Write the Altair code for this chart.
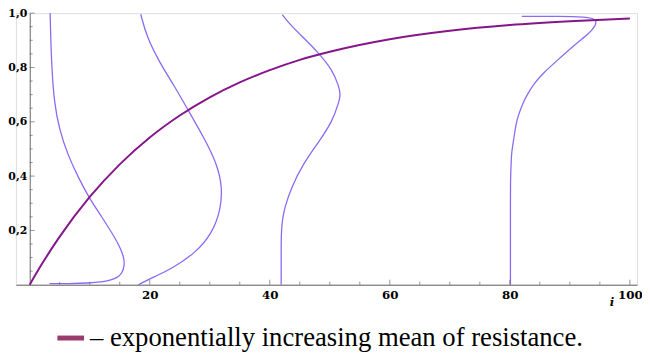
import altair as alt
import pandas as pd

# exponentially increasing mean of resistance
mean_x = [0, 2, 5, 10, 15, 20, 25, 30, 35, 40, 45, 50, 60, 70, 80, 90, 100]
mean_y = [0, 0.075, 0.177, 0.323, 0.443, 0.542, 0.623, 0.690, 0.745, 0.790,
          0.828, 0.858, 0.904, 0.935, 0.956, 0.970, 0.980]

# rotated density curves
c1_x = [3.3, 6.5, 9.9, 12.0, 13.4, 14.6, 15.4, 15.8, 15.7, 15.2, 14.3, 12.0, 9.9, 8.2, 6.3, 4.9, 4.1, 3.7, 3.5, 3.4]
c1_y = [0.004, 0.004, 0.006, 0.01, 0.016, 0.026, 0.042, 0.07, 0.1, 0.13, 0.17, 0.25, 0.32, 0.39, 0.48, 0.575, 0.67, 0.79, 0.91, 1.0]

c2_x = [18.1, 20.8, 23.6, 27.7, 30.4, 31.8, 32.1, 31.25, 29.1, 26.3, 24.1, 21.7, 19.5, 18.5]
c2_y = [0.0, 0.03, 0.058, 0.118, 0.19, 0.274, 0.358, 0.443, 0.539, 0.647, 0.732, 0.816, 0.912, 0.996]

c3_x = [41.9, 41.9, 41.9, 42.1, 42.5, 43.6, 45.5, 48.2, 50.4, 51.5, 51.8, 51.5, 50.4, 48.2, 45.5, 43.3, 42.1]
c3_y = [0.0, 0.1, 0.19, 0.24, 0.286, 0.358, 0.443, 0.527, 0.6, 0.671, 0.70, 0.732, 0.792, 0.852, 0.912, 0.96, 0.994]

c4_x = [80.1, 80.1, 80.1, 80.1, 80.2, 80.3, 80.6, 81.0, 81.4, 82.2, 82.8, 84.0, 85.6, 87.7, 91.0, 93.2, 94.3, 94.4, 94.0, 92.6, 88.3, 82.0]
c4_y = [0.0, 0.15, 0.3, 0.38, 0.44, 0.49, 0.527, 0.59, 0.623, 0.67, 0.696, 0.74, 0.78, 0.822, 0.888, 0.924, 0.955, 0.97, 0.98, 0.986, 0.989, 0.988]

# axis ticks
x_major = [20, 40, 60, 80, 100]
x_minor = [5, 10, 15, 25, 30, 35, 45, 50, 55, 65, 70, 75, 85, 90, 95]
y_major = [0.2, 0.4, 0.6, 0.8, 1.0]
y_minor = [0.05, 0.1, 0.15, 0.25, 0.3, 0.35, 0.45, 0.5, 0.55, 0.65, 0.7, 0.75, 0.85, 0.9, 0.95]

legend_text = "– exponentially increasing mean of resistance."

rows = []
for cid, (xs, ys) in enumerate([(c1_x, c1_y), (c2_x, c2_y), (c3_x, c3_y), (c4_x, c4_y)]):
    for i, (a, b) in enumerate(zip(xs, ys)):
        rows.append({"curve": cid, "idx": i, "x": a, "y": b})
dens = pd.DataFrame(rows)
mean_df = pd.DataFrame({"x": mean_x, "y": mean_y})

xscale = alt.Scale(domain=[-2.3, 101.2], nice=False, zero=False)
yscale = alt.Scale(domain=[0, 1], nice=False)

lab_font = "DejaVu Serif"

xaxis = alt.Axis(values=x_major, ticks=False, grid=False, domainColor="#666",
                 labelFont=lab_font, labelFontWeight="bold", labelFontSize=12,
                 labelPadding=5, labelColor="black", labelFlush=False, labelOverlap=False,
                 title="i", titleFont=lab_font, titleFontStyle="italic", titleFontWeight="bold",
                 titleFontSize=12, titleX=603, titleY=12, titleColor="black")
yaxis = alt.Axis(values=y_major, ticks=False, grid=False, domainColor="#666", offset=-14,
                 labelFont=lab_font, labelFontWeight="bold", labelFontSize=11,
                 labelPadding=3, labelColor="black", labelFlush=False, labelOverlap=False,
                 labelExpr="replace(format(datum.value, '.1f'), '.', ',')", title=None)

blue = alt.Chart(dens).mark_line(color="#8a6af2", strokeWidth=1.3, interpolate="basis").encode(
    x=alt.X("x:Q", scale=xscale, axis=xaxis),
    y=alt.Y("y:Q", scale=yscale, axis=yaxis),
    detail="curve:N",
    order="idx:Q",
)

mean_line = alt.Chart(mean_df).mark_line(color="#85168a", strokeWidth=2, interpolate="monotone").encode(
    x="x:Q", y="y:Q"
)

xt_minor = alt.Chart(pd.DataFrame({"x": x_minor})).mark_tick(
    orient="vertical", size=3, thickness=1, color="#666", yOffset=-1.5
).encode(x="x:Q", y=alt.datum(0))
xt_major = alt.Chart(pd.DataFrame({"x": x_major})).mark_tick(
    orient="vertical", size=5, thickness=1, color="#666", yOffset=-2.5
).encode(x="x:Q", y=alt.datum(0))
yt_minor = alt.Chart(pd.DataFrame({"y": y_minor})).mark_tick(
    orient="horizontal", size=3, thickness=1, color="#666", xOffset=1.5
).encode(y="y:Q", x=alt.datum(0))
yt_major = alt.Chart(pd.DataFrame({"y": y_major})).mark_tick(
    orient="horizontal", size=5, thickness=1, color="#666", xOffset=2.5
).encode(y="y:Q", x=alt.datum(0))

swatch = alt.Chart(pd.DataFrame({"a": [0]})).mark_rule(color="#9b3a6e", strokeWidth=5).encode(
    x=alt.value(42), x2=alt.value(69), y=alt.value(329)
)
label = alt.Chart(pd.DataFrame({"a": [0]})).mark_text(
    text=legend_text, font="Liberation Serif", fontSize=27, align="left",
    baseline="alphabetic", color="black"
).encode(x=alt.value(75), y=alt.value(337))

chart = alt.layer(blue, mean_line, xt_minor, xt_major, yt_minor, yt_major, swatch, label).properties(
    width=629, height=275,
    padding={"left": 8, "top": 3, "right": 5, "bottom": 71},
    autosize=alt.AutoSizeParams(type="none"),
).configure_view(stroke=None).configure(background="white")

chart.save("out.html", embed_options={"renderer": "svg", "actions": False})
